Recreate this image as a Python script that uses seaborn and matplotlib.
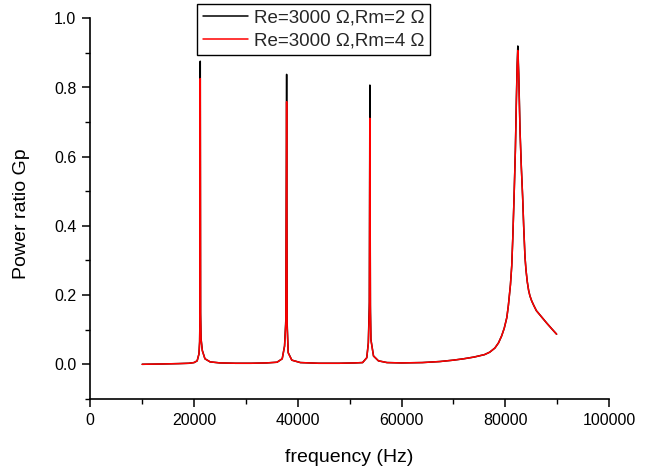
import matplotlib
matplotlib.use("Agg")
import matplotlib.pyplot as plt
from matplotlib.ticker import MultipleLocator
import seaborn as sns
import pandas as pd

# ---- data ----
freq = [10000, 14000, 17000, 19000, 20000, 20600, 20950, 21080, 21150, 21200,
        21260, 21350, 21600, 22100, 23100, 25000, 28000, 31000, 34000, 36000,
        37000, 37450, 37700, 37850, 37950, 38150, 38850, 40500, 44000, 48000,
        51000, 52500, 53300, 53600, 53800, 53900, 54000, 54100, 54600, 55550,
        57200, 60000, 64000, 67400, 70000, 72000, 74000, 76000, 77000, 78000,
        78700, 79300, 79800, 80300, 80600, 81000, 81250, 81450, 81700, 81950,
        82150, 82300, 82420, 82600, 82850, 83100, 83350, 83550, 83800, 84000,
        84250, 84500, 84750, 85100, 85500, 86000, 87000, 88000, 89000, 89900]

gp_rm2 = [0.000, 0.001, 0.002, 0.003, 0.005, 0.010, 0.030, 0.065, 0.160, 0.876,
          0.150, 0.075, 0.040, 0.016, 0.007, 0.004, 0.003, 0.003, 0.004, 0.006,
          0.016, 0.053, 0.130, 0.838, 0.120, 0.034, 0.012, 0.005, 0.003, 0.003,
          0.004, 0.005, 0.019, 0.062, 0.180, 0.807, 0.170, 0.072, 0.024, 0.010,
          0.005, 0.004, 0.005, 0.008, 0.012, 0.016, 0.021, 0.028, 0.035, 0.047,
          0.062, 0.082, 0.104, 0.135, 0.170, 0.230, 0.285, 0.365, 0.484, 0.620,
          0.771, 0.870, 0.920, 0.840, 0.675, 0.570, 0.484, 0.400, 0.311, 0.272,
          0.238, 0.214, 0.198, 0.183, 0.170, 0.155, 0.137, 0.119, 0.102, 0.087]

gp_rm4 = [0.000, 0.001, 0.002, 0.003, 0.005, 0.010, 0.030, 0.065, 0.150, 0.826,
          0.140, 0.072, 0.039, 0.016, 0.007, 0.004, 0.003, 0.003, 0.004, 0.006,
          0.016, 0.052, 0.120, 0.759, 0.110, 0.033, 0.012, 0.005, 0.003, 0.003,
          0.004, 0.005, 0.019, 0.060, 0.160, 0.711, 0.150, 0.070, 0.024, 0.010,
          0.005, 0.004, 0.005, 0.008, 0.012, 0.016, 0.021, 0.028, 0.035, 0.047,
          0.062, 0.082, 0.104, 0.135, 0.170, 0.230, 0.285, 0.365, 0.484, 0.618,
          0.765, 0.860, 0.907, 0.830, 0.670, 0.568, 0.484, 0.400, 0.311, 0.272,
          0.238, 0.214, 0.198, 0.183, 0.170, 0.155, 0.137, 0.119, 0.102, 0.087]

labels = ["Re=3000 \u03a9,Rm=2 \u03a9", "Re=3000 \u03a9,Rm=4 \u03a9"]
colors = ["#000000", "#ff0000"]

x_ticks = [0, 20000, 40000, 60000, 80000, 100000]
y_ticks = [0.0, 0.2, 0.4, 0.6, 0.8, 1.0]

sns.set_theme(style="ticks")
plt.rcParams["font.family"] = ["Liberation Sans", "DejaVu Sans"]

fig = plt.figure(figsize=(6.49, 4.72), dpi=100)
ax = fig.add_axes([90.3 / 649, 1 - 398.9 / 472, 518.7 / 649, 380.6 / 472])

df1 = pd.DataFrame({"f": freq, "gp": gp_rm2})
df2 = pd.DataFrame({"f": freq, "gp": gp_rm4})
sns.lineplot(data=df1, x="f", y="gp", color=colors[0], linewidth=1.1,
             estimator=None, label=labels[0], ax=ax)
sns.lineplot(data=df2, x="f", y="gp", color=colors[1], linewidth=1.1,
             estimator=None, label=labels[1], ax=ax)

ax.set_xlim(0, 100000)
ax.set_ylim(-0.1, 1.0)
ax.set_xticks(x_ticks)
ax.set_xticklabels([str(v) for v in x_ticks])
ax.set_yticks(y_ticks)
ax.set_yticklabels([f"{v:.1f}" for v in y_ticks])
ax.xaxis.set_minor_locator(MultipleLocator(10000))
ax.yaxis.set_minor_locator(MultipleLocator(0.1))

for s in ["top", "right"]:
    ax.spines[s].set_visible(False)
for s in ["left", "bottom"]:
    ax.spines[s].set_linewidth(1.2)
    ax.spines[s].set_color("black")

ax.tick_params(which="major", direction="out", length=6, width=1.1,
               labelsize=11.5, colors="black", pad=4)
ax.tick_params(which="minor", direction="out", length=3.5, width=1.0,
               colors="black")

ax.set_xlabel("frequency (Hz)", fontsize=14, color="black")
ax.set_ylabel("Power ratio Gp", fontsize=14, color="black")
ax.xaxis.label.set_va("center")
ax.yaxis.label.set_va("center")
ax.xaxis.set_label_coords(0.5, (398.9 - 458) / 380.6)
ax.yaxis.set_label_coords((21.7 - 90.3) / 518.7, (398.9 - 214) / 380.6)

handles, labs = ax.get_legend_handles_labels()
leg = ax.legend(handles, labs, loc="upper left",
                bbox_to_anchor=(197 / 649, 1 - 4 / 472),
                bbox_transform=fig.transFigure,
                fontsize=13.5, frameon=True, fancybox=False, shadow=False,
                framealpha=1, edgecolor="black", borderpad=0.3,
                handlelength=2.4, handletextpad=0.35, labelspacing=0.3,
                borderaxespad=0)
leg.get_frame().set_linewidth(1.0)

fig.savefig("out.png", dpi=100)
